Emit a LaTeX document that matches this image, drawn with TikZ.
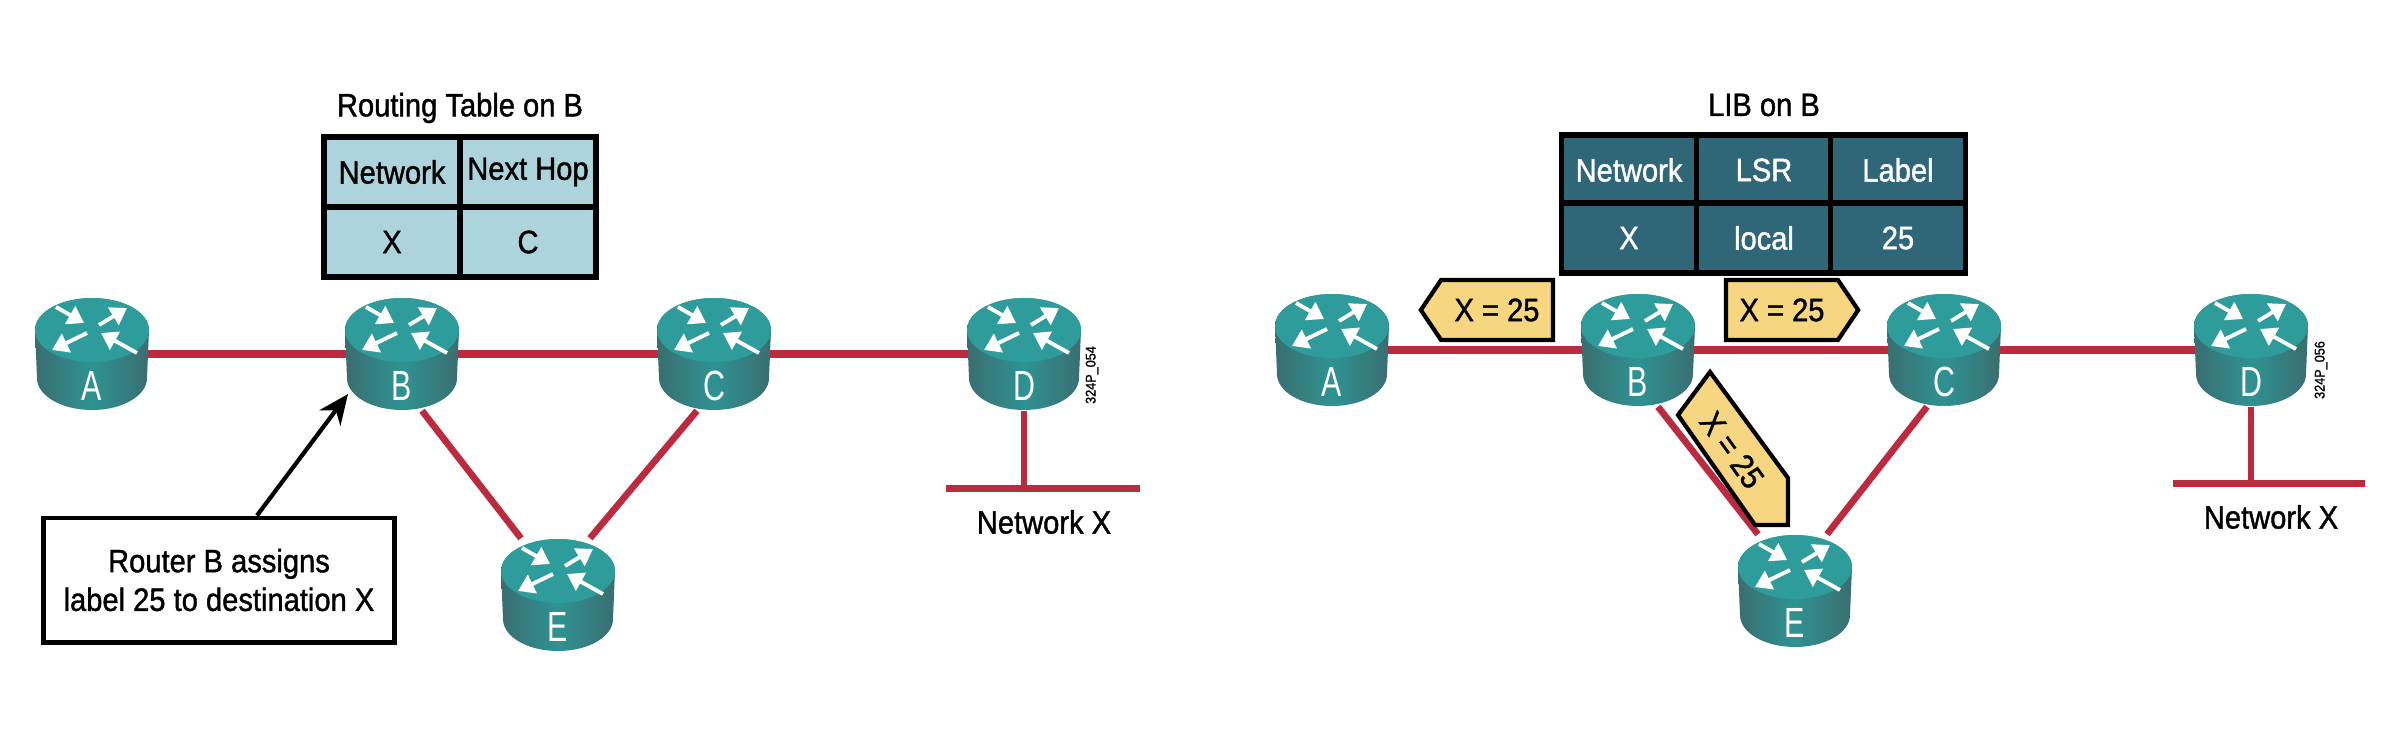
\documentclass[tikz,border=0pt]{standalone}
\usepackage{fontspec}
\setmainfont[FakeStretch=0.9, FakeBold=1.2]{Liberation Sans}
\newfontfamily\routerfont[FakeStretch=0.72]{Liberation Sans}
\usetikzlibrary{arrows.meta,backgrounds,calc,shapes.symbols}
\definecolor{routertop}{HTML}{2F9C9C}
\definecolor{routermid}{HTML}{2F9292}
\definecolor{routeredge}{HTML}{3A6E70}
\definecolor{linkred}{HTML}{BC2A40}
\definecolor{lightcell}{HTML}{ADD3DD}
\definecolor{darkcell}{HTML}{2F6678}
\definecolor{tagfill}{HTML}{F6D680}

\newcommand{\routernode}[3]{%
  \node[routerbox] (#1) at (#2) {};
  \begin{scope}[shift={(#2)}, x=0.01cm, y=0.01cm]
    \path[left color=routeredge, right color=routeredge, middle color=routermid]
      (-57,24) -- (-55,-24) arc[start angle=180, end angle=360, x radius=55, y radius=32]
      -- (57,24) arc[start angle=0, end angle=180, x radius=57, y radius=32] -- cycle;
    \fill[routertop] (0,24) ellipse[x radius=57, y radius=32];
    \draw[routerarr] (-36,47) -- (-8,31);
    \draw[routerarr] (7,29) -- (35,46);
    \draw[routerarr] (-5,21) -- (-40,4);
    \draw[routerarr] (45,1) -- (9,21);
  \end{scope}
  \node[routerlab] at ($(#1.center)+(0,32)$) {#3};
}

\begin{document}
\begin{tikzpicture}[
  x=0.01cm, y=-0.01cm,
  font=\fontsize{9.2}{11}\selectfont,
  routerbox/.style={minimum width=1.16cm, minimum height=1.12cm, inner sep=0pt},
  routerarr/.style={-{Triangle[length=1.6mm, width=2mm]}, draw=white, line width=1.1pt},
  routerlab/.style={font=\routerfont\fontsize{12}{12}\selectfont, text=white, inner sep=0pt},
  link/.style={draw=linkred, line width=2.3pt},
  slant/.style={draw=linkred, line width=1.9pt},
  lcell/.style={draw=black, line width=1.5pt, fill=lightcell, minimum width=1.36cm, minimum height=0.7cm, inner sep=0pt},
  dcell/.style={lcell, fill=darkcell, text=white, minimum width=1.345cm},
  tagbox/.style={shape=signal, signal pointer angle=112, draw=black, line width=1.2pt, fill=tagfill,
                 minimum height=0.6cm, minimum width=1.32cm, inner sep=0pt},
  tinytext/.style={font=\fontsize{4}{4}\selectfont, rotate=90, inner sep=0pt}]
\useasboundingbox (0,0) rectangle (2396,742);
% ---------- routers, left
\routernode{A}{92,354}{A}
\routernode{B}{402,354}{B}
\routernode{C}{714,354}{C}
\routernode{D}{1024,354}{D}
\routernode{E}{558,595}{E}
% ---------- routers, right
\routernode{A2}{1332,350}{A}
\routernode{B2}{1638,350}{B}
\routernode{C2}{1944,350}{C}
\routernode{D2}{2251,350}{D}
\routernode{E2}{1795,591}{E}
% ---------- network bars
\node[inner sep=0pt, minimum width=1.94cm, minimum height=0.07cm, fill=linkred] (netx) at (1043,488) {};
\node (netxlab) at (1044,522) {Network X};
\node[inner sep=0pt, minimum width=1.91cm, minimum height=0.07cm, fill=linkred] (netx2) at (2269,483) {};
\node (netxlab2) at (2271,517) {Network X};
\node[tinytext] (code) at (1092,375) {324P\_054};
\node[tinytext] (code2) at (2321,370) {324P\_056};
% ---------- routing table
\node (rtitle) at (460,108) {Routing Table on B};
\node[lcell] (r11) at (392,172) {Network};
\node[lcell] (r12) at (528,172) {Next Hop};
\node[lcell] (r21) at (392,242) {X};
\node[lcell] (r22) at (528,242) {C};
% ---------- lib
\node (ltitle) at (1764,105) {LIB on B};
\node[dcell] (l11) at (1629,170) {Network};
\node[dcell] (l12) at (1764,170) {LSR};
\node[dcell] (l13) at (1898,170) {Label};
\node[dcell] (l21) at (1629,238) {X};
\node[dcell] (l22) at (1764,238) {local};
\node[dcell] (l23) at (1898,238) {25};
% ---------- label tags
\node[tagbox, signal to=west] (tagA) at (1497,310) {X = 25};
\node[tagbox, signal to=east] (tagC) at (1782,310) {X = 25};
\draw[draw=black, line width=1.2pt, fill=tagfill] (1710,372) -- (1788,478) -- (1788,525) -- (1755,525) -- (1678,415) -- cycle;
\node[inner sep=0pt, rotate=-54.5] (tagE) at (1732,450) {X = 25};
% ---------- note
\node[draw=black, line width=1.4pt, fill=white, minimum width=3.5cm, minimum height=1.24cm, align=center] (note) at (219,580)
     {Router B assigns\\label 25 to destination X};
\coordinate (bhit) at (348,394);
\draw[-{Stealth[length=3mm, width=2.6mm]}, line width=1.2pt] ($(note.north)+(38,0)$) -- (bhit);
% ---------- links
\begin{scope}[on background layer]
\draw[link] (A.center) -- (B.center);
\draw[link] (B.center) -- (C.center);
\draw[link] (C.center) -- (D.center);
\draw[slant] ($(B.south)+(20,0)$) -- ($(E.north)+(-37,0)$);
\draw[slant] ($(C.south)+(-17,0)$) -- ($(E.north)+(32,0)$);
\draw[slant] (D.south) -- (D.south|-netx.center);
\draw[link] (A2.center) -- (B2.center);
\draw[link] (B2.center) -- (C2.center);
\draw[link] (C2.center) -- (D2.center);
\draw[slant] ($(B2.south)+(20,0)$) -- ($(E2.north)+(-37,0)$);
\draw[slant] ($(C2.south)+(-17,0)$) -- ($(E2.north)+(32,0)$);
\draw[slant] (D2.south) -- (D2.south|-netx2.center);
\end{scope}
\end{tikzpicture}
\end{document}
